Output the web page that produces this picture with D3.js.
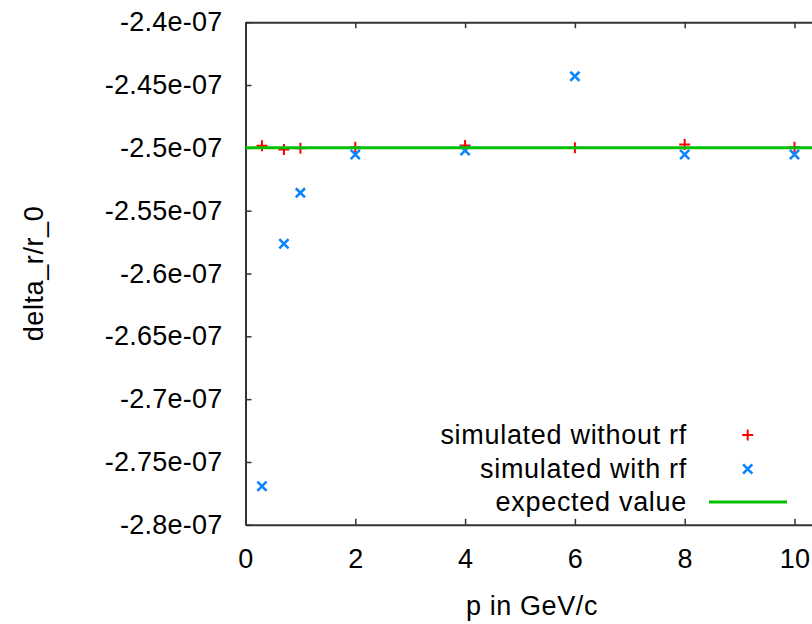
<!DOCTYPE html>
<html>
<head>
<meta charset="utf-8">
<script src="https://cdn.jsdelivr.net/npm/d3@7"></script>
<style>
  html, body { margin: 0; padding: 0; background: #fff; }
  svg { display: block; }
  text { font-family: "Liberation Sans", Arial, Helvetica, sans-serif; fill: #000; }
</style>
</head>
<body>
<svg id="chart" width="812" height="624"></svg>
<script>
// ---- data ----
const p = [0.3, 0.7, 1, 2, 4, 6, 8, 10];
const withoutRf = [-2.4984e-7, -2.5014e-7, -2.5004e-7, -2.4995e-7, -2.4982e-7, -2.5000e-7, -2.4974e-7, -2.4995e-7];
const withRf = [-2.7693e-7, -2.5763e-7, -2.5358e-7, -2.5053e-7, -2.5021e-7, -2.4431e-7, -2.5053e-7, -2.5053e-7];
const expectedValue = -2.5e-7;
const xTicks = [0, 2, 4, 6, 8, 10];
const yTicks = [-2.4e-7, -2.45e-7, -2.5e-7, -2.55e-7, -2.6e-7, -2.65e-7, -2.7e-7, -2.75e-7, -2.8e-7];
const yTickLabels = ["-2.4e-07", "-2.45e-07", "-2.5e-07", "-2.55e-07", "-2.6e-07", "-2.65e-07", "-2.7e-07", "-2.75e-07", "-2.8e-07"];
const seriesNames = ["simulated without rf", "simulated with rf", "expected value"];
const xLabel = "p in GeV/c";
const yLabel = "delta_r/r_0";

// ---- layout ----
const svg = d3.select("#chart");
const FS = 27;
const plotLeft = 245.5, plotTop = 22.2, plotBottom = 524.8;
const unit = 54.9;
const x = d3.scaleLinear().domain([0, 12]).range([plotLeft, plotLeft + 12 * unit]);
const y = d3.scaleLinear().domain([-2.8e-7, -2.4e-7]).range([plotBottom, plotTop]);
const plotRight = x(12);

const RED = "#ff0000", BLUE = "#0a84ff", GREEN = "#00c000", AX = "#333";

// axes
const gB = svg.append("g").attr("transform", `translate(0,${plotBottom})`)
  .call(d3.axisBottom(x).tickValues(xTicks).tickSizeInner(-6).tickSizeOuter(0).tickPadding(24).tickFormat(d3.format("d")));
const gT = svg.append("g").attr("transform", `translate(0,${plotTop})`)
  .call(d3.axisTop(x).tickValues(xTicks).tickSizeInner(-6).tickSizeOuter(0).tickFormat(""));
const gL = svg.append("g").attr("transform", `translate(${plotLeft},0)`)
  .call(d3.axisLeft(y).tickValues(yTicks).tickSizeInner(-6).tickSizeOuter(0).tickPadding(23)
    .tickFormat((d, i) => yTickLabels[i]));
const gR = svg.append("g").attr("transform", `translate(${plotRight},0)`)
  .call(d3.axisRight(y).tickValues(yTicks).tickSizeInner(-6).tickSizeOuter(0).tickFormat(""));

[gB, gT, gL, gR].forEach(g => {
  g.select(".domain").attr("stroke", AX).attr("stroke-width", 2);
  g.selectAll(".tick line").attr("stroke", AX).attr("stroke-width", 1.5);
  g.selectAll(".tick text").attr("font-size", FS).attr("fill", "#000")
    .attr("letter-spacing", "0.25px")
    .style("font-family", '"Liberation Sans", Arial, sans-serif');
});
gB.selectAll(".tick").filter(d => d === 0).select("line").remove();

// axis labels
svg.append("text").attr("x", 532).attr("y", 615).attr("text-anchor", "middle")
  .attr("font-size", FS).attr("letter-spacing", "0.6px").text(xLabel);
svg.append("text").attr("transform", `translate(43,${(plotTop + plotBottom) / 2}) rotate(-90)`)
  .attr("text-anchor", "middle").attr("font-size", FS).attr("letter-spacing", "0.6px").text(yLabel);

// markers
const h = 5.5;
function plus(g, cx, cy, color) {
  g.append("path").attr("d", `M${cx - h},${cy}H${cx + h}M${cx},${cy - h}V${cy + h}`)
    .attr("stroke", color).attr("stroke-width", 2).attr("fill", "none");
}
function cross(g, cx, cy, color) {
  const k = 4.6;
  g.append("path").attr("d", `M${cx - k},${cy - k}L${cx + k},${cy + k}M${cx - k},${cy + k}L${cx + k},${cy - k}`)
    .attr("stroke", color).attr("stroke-width", 2.6).attr("fill", "none");
}

const gRed = svg.append("g");
p.forEach((d, i) => plus(gRed, x(d), y(withoutRf[i]), RED));
const gBlue = svg.append("g");
p.forEach((d, i) => cross(gBlue, x(d), y(withRf[i]), BLUE));

svg.append("line").attr("x1", plotLeft).attr("x2", 812)
  .attr("y1", y(expectedValue)).attr("y2", y(expectedValue))
  .attr("stroke", GREEN).attr("stroke-width", 3);

// legend
const legY = [435, 469, 502];
seriesNames.forEach((name, i) => {
  svg.append("text").attr("x", 687).attr("y", legY[i]).attr("dy", "0.35em")
    .attr("text-anchor", "end").attr("font-size", FS).attr("letter-spacing", "0.7px").text(name);
});
plus(svg, 747.7, legY[0], RED);
cross(svg, 747.7, legY[1], BLUE);
svg.append("line").attr("x1", 709).attr("x2", 787).attr("y1", legY[2]).attr("y2", legY[2])
  .attr("stroke", GREEN).attr("stroke-width", 3);
</script>
</body>
</html>
